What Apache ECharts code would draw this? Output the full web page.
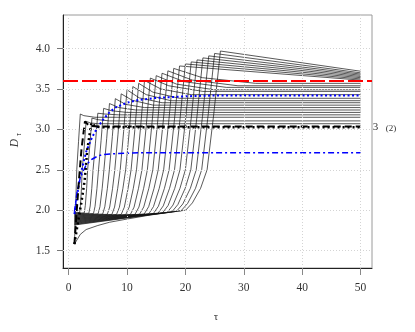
<!DOCTYPE html>
<html><head><meta charset="utf-8">
<script src="https://cdn.jsdelivr.net/npm/echarts@6/dist/echarts.min.js"></script>
<style>html,body{margin:0;padding:0;background:#fff}#c{width:415px;height:332px}</style>
</head><body><div id="c"></div>
<script>
const tauTicks = [0, 10, 20, 30, 40, 50];
const dTicks = [1.5, 2.0, 2.5, 3.0, 3.5, 4.0];
const redLevel = 3.6;

const thinCurves = [
  [[1,1.58],[1.4,2.5],[1.7,2.85],[2,3.19],[2.6,3.17],[4.5,3.15],[50,3.15]],
  [[1,1.97],[1.89,1.97],[2.03,2.06],[2.2,2.27],[2.33,2.5],[2.67,2.78],[3,3.1],[3.7,3.08],[5,3.07],[50,3.07]],
  [[1,1.963],[2.68,1.966],[2.86,2.056],[3.09,2.27],[3.26,2.5],[3.63,2.8],[4,3.14],[5.05,3.12],[7,3.105],[50,3.105]],
  [[1,1.956],[3.47,1.962],[3.7,2.052],[3.97,2.27],[4.19,2.5],[4.6,2.83],[5,3.2],[6.2,3.19],[8.5,3.18],[50,3.18]],
  [[1,1.949],[4.26,1.958],[4.53,2.048],[4.86,2.27],[5.12,2.5],[5.56,2.86],[6,3.26],[7.4,3.23],[10,3.21],[50,3.21]],
  [[1,1.942],[5.05,1.954],[5.37,2.044],[5.75,2.27],[6.05,2.5],[6.53,2.89],[7,3.32],[8.6,3.27],[11.5,3.24],[50,3.24]],
  [[1,1.935],[5.84,1.952],[6.2,2.042],[6.64,2.27],[6.98,2.5],[7.49,2.91],[8,3.38],[9.75,3.31],[13,3.27],[50,3.27]],
  [[1,1.928],[6.63,1.949],[7.04,2.039],[7.53,2.27],[7.91,2.5],[8.46,2.94],[9,3.44],[10.9,3.36],[14.5,3.3],[50,3.3]],
  [[1,1.921],[7.42,1.948],[7.87,2.038],[8.41,2.27],[8.84,2.5],[9.42,2.97],[10,3.49],[12.1,3.39],[16,3.33],[50,3.33]],
  [[1,1.914],[8.21,1.947],[8.7,2.037],[9.3,2.27],[9.77,2.5],[10.39,2.98],[11,3.53],[13.3,3.43],[17.5,3.355],[50,3.355]],
  [[1,1.907],[9,1.946],[9.54,2.036],[10.19,2.27],[10.7,2.5],[11.35,3.0],[12,3.57],[14.45,3.46],[19,3.385],[50,3.385]],
  [[1,1.9],[9.79,1.946],[10.37,2.036],[11.08,2.27],[11.63,2.5],[12.32,3.02],[13,3.605],[15.8,3.5],[21,3.43],[50,3.43]],
  [[1,1.893],[10.58,1.947],[11.21,2.037],[11.97,2.27],[12.56,2.5],[13.28,3.03],[14,3.635],[17.15,3.54],[23,3.47],[50,3.47]],
  [[1,1.886],[11.37,1.948],[12.04,2.038],[12.85,2.27],[13.49,2.5],[14.25,3.05],[15,3.665],[18.5,3.56],[25,3.49],[50,3.49]],
  [[1,1.879],[12.16,1.95],[12.87,2.04],[13.74,2.27],[14.42,2.5],[15.21,3.06],[16,3.695],[19.85,3.59],[27,3.52],[50,3.52]],
  [[1,1.872],[12.95,1.953],[13.71,2.043],[14.63,2.27],[15.35,2.5],[16.18,3.08],[17,3.725],[21.2,3.61],[29,3.54],[50,3.54]],
  [[1,1.865],[13.74,1.955],[14.54,2.045],[15.52,2.27],[16.28,2.5],[17.14,3.09],[18,3.755],[22.9,3.64],[32,3.57],[50,3.57]],
  [[1,1.858],[14.53,1.959],[15.38,2.049],[16.41,2.27],[17.21,2.5],[18.1,3.1],[19,3.785],[50,3.61]],
  [[1,1.851],[15.32,1.963],[16.21,2.053],[17.29,2.27],[18.14,2.5],[19.07,3.12],[20,3.81],[50,3.625]],
  [[1,1.844],[16.11,1.968],[17.04,2.058],[18.18,2.27],[19.07,2.5],[20.04,3.13],[21,3.835],[50,3.64]],
  [[1,1.837],[16.9,1.973],[17.88,2.063],[19.07,2.27],[20,2.5],[21,3.14],[22,3.86],[50,3.655]],
  [[1,1.83],[17.69,1.979],[18.71,2.069],[19.96,2.27],[20.93,2.5],[21.97,3.15],[23,3.885],[50,3.67]],
  [[1,1.823],[18.48,1.986],[19.55,2.076],[20.85,2.27],[21.86,2.5],[22.93,3.16],[24,3.91],[50,3.685]],
  [[1,1.816],[19.27,1.993],[20.38,2.083],[21.73,2.27],[22.79,2.5],[23.9,3.18],[25,3.94],[50,3.7]],
  [[1,1.58],[2,1.70],[3,1.76],[5,1.81],[7,1.85],[10,1.89],[14,1.94],[18,1.98],[20.06,2.0],[21.2,2.09],[22.6,2.27],[23.72,2.5],[24.86,3.19],[26,3.97],[50,3.72]]
];

const thickDashed = [[1,1.58],[1.3,1.9],[1.77,2.37],[2.2,2.75],[2.8,3.1],[3.5,3.045],[5,3.035],[50,3.035]];
const thickDotted = [[1,1.58],[1.6,1.85],[2.2,2.1],[2.75,2.37],[3.2,2.75],[3.9,3.08],[4.6,3.035],[6,3.025],[50,3.025]];
const blueDotted = [[1,1.95],[1.5,2.2],[2,2.42],[2.5,2.58],[3,2.72],[4,2.9],[5,3.03],[6,3.13],[7,3.21],[8,3.27],[10,3.33],[12,3.365],[15,3.39],[20,3.41],[25,3.42],[50,3.42]];
const blueDashDot = [[1,1.98],[1.5,2.25],[2,2.4],[3,2.56],[4,2.63],[5,2.67],[6,2.69],[8,2.7],[12,2.71],[50,2.71]];

const serif = '"Liberation Serif","DejaVu Serif",serif';
const chart = echarts.init(document.getElementById('c'), null, {renderer:'canvas'});

const series = [];
series.push({
  type:'line', data:[], silent:true, z:1,
  markLine:{silent:true, symbol:'none', animation:false, label:{show:false},
    lineStyle:{color:'#d4d4d4', type:[1,2], width:1},
    data: tauTicks.map(v=>({xAxis:v})).concat(dTicks.map(v=>({yAxis:v})))}
});
thinCurves.forEach(c => series.push({
  type:'line', data:c, showSymbol:false, silent:true, z:2,
  lineStyle:{color:'#111', width:0.7}
}));
series.push({type:'line', data:blueDashDot, showSymbol:false, silent:true, z:3,
  lineStyle:{color:'#0000ff', width:1.5, type:[6,3,2,3]}});
series.push({type:'line', data:blueDotted, showSymbol:false, silent:true, z:3,
  lineStyle:{color:'#0000ff', width:2, type:[2,2.5]}});
series.push({type:'line', data:thickDashed, showSymbol:false, silent:true, z:3,
  lineStyle:{color:'#000', width:2, type:[7,4]}});
series.push({type:'line', data:thickDotted, showSymbol:false, silent:true, z:3,
  lineStyle:{color:'#000', width:2.5, type:[2,3]}});
series.push({type:'line', data:[], silent:true, z:4,
  markLine:{silent:true, symbol:'none', animation:false, label:{show:false},
    lineStyle:{color:'#ff0000', width:2, type:[15,4]},
    data:[{yAxis:redLevel}]}});

chart.setOption({
  animation:false,
  grid:{left:63, top:15, width:309, height:253, show:true, borderColor:'#9a9a9a', borderWidth:1, backgroundColor:'transparent'},
  xAxis:{type:'value', min:-0.96, max:51.96,
    axisLine:{show:true, onZero:false, lineStyle:{color:'#222', width:1}},
    axisTick:{show:true, length:7, customValues:tauTicks, lineStyle:{color:'#888'}},
    axisLabel:{customValues:tauTicks, margin:14, color:'#333', fontFamily:serif, fontSize:11.5},
    splitLine:{show:false}},
  yAxis:{type:'value', min:1.284, max:4.416,
    axisLine:{show:true, onZero:false, lineStyle:{color:'#222', width:1}},
    axisTick:{show:true, length:6, customValues:dTicks, lineStyle:{color:'#777'}},
    axisLabel:{customValues:dTicks, margin:13, color:'#333', fontFamily:serif, fontSize:11.5,
      formatter:v=>v.toFixed(1)},
    splitLine:{show:false}},
  series:series,
  graphic:[
    {type:'text', x:216, y:317, style:{text:'τ', font:'11px '+serif, fill:'#333', textAlign:'center', textVerticalAlign:'middle'}},
    {type:'text', x:14.5, y:143, rotation:Math.PI/2, style:{text:'D', font:'italic 11.5px '+serif, fill:'#333', textAlign:'center', textVerticalAlign:'middle'}},
    {type:'text', x:18.5, y:134.5, rotation:Math.PI/2, style:{text:'τ', font:'italic 8px '+serif, fill:'#333', textAlign:'center', textVerticalAlign:'middle'}},
    {type:'text', x:375.5, y:127, style:{text:'3', font:'11px '+serif, fill:'#333', textAlign:'center', textVerticalAlign:'middle'}},
    {type:'text', x:391, y:128.5, style:{text:'(2)', font:'9px '+serif, fill:'#333', textAlign:'center', textVerticalAlign:'middle'}}
  ]
});
</script></body></html>
